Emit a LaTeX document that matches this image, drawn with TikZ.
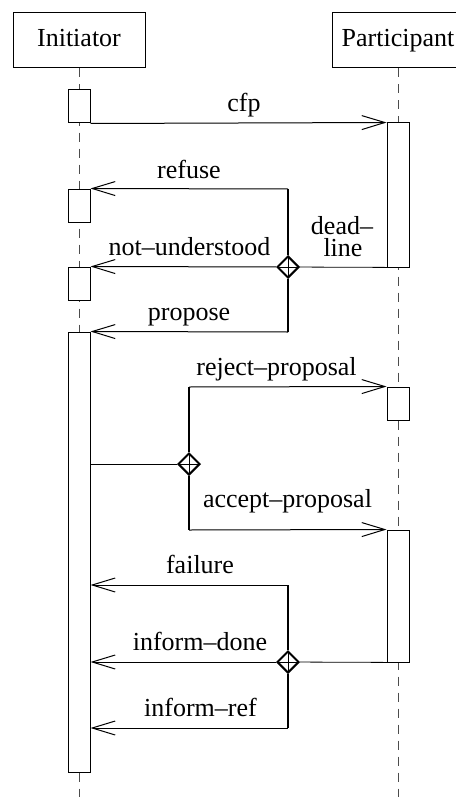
\documentclass[tikz,border=0pt]{standalone}
\usepackage{fontspec}
\setmainfont{Liberation Serif}
\usetikzlibrary{shapes.geometric, arrows.meta, positioning, calc}

\begin{document}
\begin{tikzpicture}[x=0.5pt, y=-0.5pt,
    font=\fontsize{13}{11}\selectfont,
    head/.style={rectangle, draw, line width=0.5pt, minimum width=66pt, minimum height=27.5pt, text height=9pt, text depth=3pt, inner sep=0pt},
    act/.style={rectangle, draw, fill=white, line width=0.5pt, minimum width=11pt, minimum height=#1, inner sep=0pt},
    lifeline/.style={dash pattern=on 4.5pt off 3.5pt, line width=0.5pt, color=black!70},
    msg/.style={-{Straight Barb[length=11.5pt, width=7pt]}, line width=0.5pt},
    branch/.style={line width=1pt},
    xor/.style={diamond, draw, fill=white, line width=1pt, minimum size=11pt, inner sep=0pt,
        path picture={\draw[line width=0.5pt] (path picture bounding box.north) -- (path picture bounding box.south)
            (path picture bounding box.west) -- (path picture bounding box.east);}},
    lbl/.style={anchor=base, inner sep=0pt}
]
\useasboundingbox (0,0) rectangle (455,797);

% Lifelines
\node[head] (init) at (79,40.5) {Initiator};
\node[head] (part) at (398,40.5) {Participant};
\coordinate (iend) at (79,797);
\coordinate (pend) at (398,797);
\draw[lifeline] (init) -- (iend);
\draw[lifeline] (part) -- (pend);

% Activations
\node[act=16.5pt] (ia1) at (79,106.5) {};
\node[act=16.5pt] (ia2) at (79,205.5) {};
\node[act=16.5pt] (ia3) at (79,283.5) {};
\node[act=220pt] (ia4) at (79,552) {};
\node[act=72pt] (pa1) at (398,195) {};
\node[act=16.5pt] (pa2) at (398,403.5) {};
\node[act=66pt] (pa3) at (398,596) {};

% cfp
\draw[msg] (ia1.south east) -- (pa1.north west);
\node[lbl] (lcfp) at (244,112) {cfp};

% Replies to cfp
\coordinate (b1) at (288,189);
\node[xor] (d1) at (288,267) {};
\coordinate (b2) at (288,332);
\draw[branch] (b1) -- (d1) -- (b2);
\draw (pa1.south east) -- (d1);
\draw[msg] (b1) -- (ia2.north east);
\draw[msg] (d1) -- (ia3.north east);
\draw[msg] (b2) -- (ia4.north east);
\node[lbl] (lrefuse) at (189,178) {refuse};
\node[lbl] (lnotund) at (189.5,255) {not--understood};
\node[lbl] (lpropose) at (189,320) {propose};
\node[lbl] (ldead) at (342,234) {dead--};
\node[lbl] (lline) at (343,256) {line};

% Answer to proposal
\node[xor] (d2) at (189,464) {};
\coordinate (b3) at (189,387);
\coordinate (b4) at (189,530);
\draw[branch] (b3) -- (d2) -- (b4);
\draw (ia4.east |- d2) -- (d2);
\draw[msg] (b3) -- (pa2.north west);
\draw[msg] (b4) -- (pa3.north west);
\node[lbl] (lreject) at (276.5,375) {reject--proposal};
\node[lbl] (laccept) at (287.5,507) {accept--proposal};

% Result
\coordinate (b5) at (288,585);
\node[xor] (d3) at (288,662) {};
\coordinate (b6) at (288,728);
\draw[branch] (b5) -- (d3) -- (b6);
\draw (pa3.south east) -- (d3);
\draw[msg] (b5) -- (ia4.east |- b5);
\draw[msg] (d3) -- (ia4.east |- d3);
\draw[msg] (b6) -- (ia4.east |- b6);
\node[lbl] (lfailure) at (200,573) {failure};
\node[lbl] (ldone) at (200,650) {inform--done};
\node[lbl] (lref) at (200.5,716) {inform--ref};

\end{tikzpicture}
\end{document}
